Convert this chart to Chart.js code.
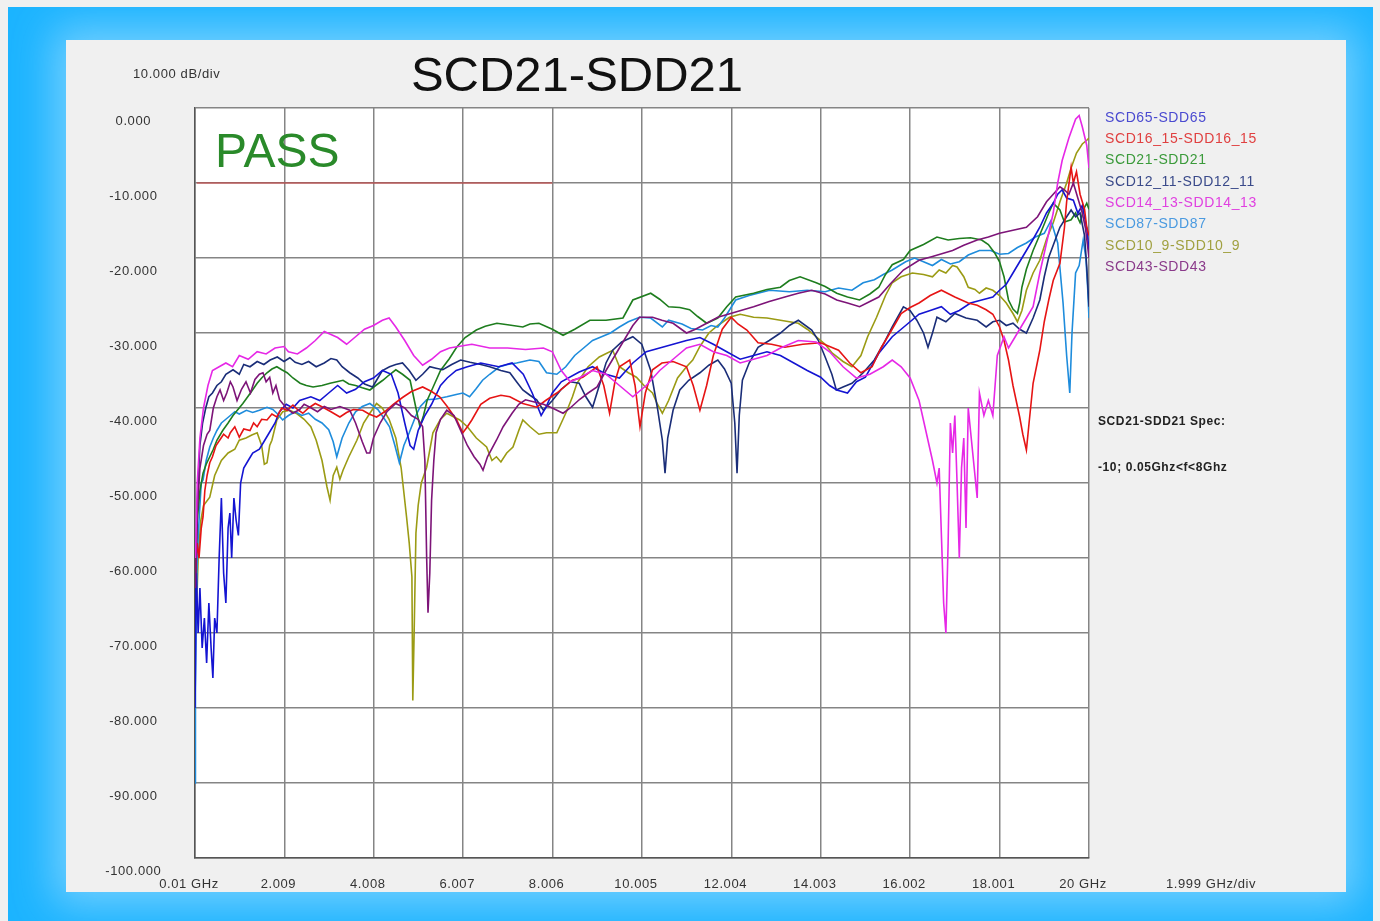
<!DOCTYPE html>
<html>
<head>
<meta charset="utf-8">
<title>SCD21-SDD21</title>
<script src="https://cdn.jsdelivr.net/npm/chart.js@4.4.1/dist/chart.umd.min.js"></script>
<style>
  html, body { margin: 0; padding: 0; background: #f0f0f0; width: 1380px; height: 921px; overflow: hidden; }
  #frame { position: absolute; left: 8px; top: 7px; width: 1365px; height: 914px; background: #1cb4ff; overflow: hidden; }
  #panel { position: absolute; left: 58px; top: 33px; width: 1280px; height: 852px; background: #f0f0f0; box-shadow: 0 0 40px 12px rgba(140, 215, 255, 0.8); }
  #chart { position: absolute; left: 0; top: 0; }
</style>
</head>
<body>
<div id="frame"><div id="panel"></div></div>
<canvas id="chart" width="1380" height="921"></canvas>
<script>
// frequency in GHz, value in dB
const xTickValues = [0.01, 2.009, 4.008, 6.007, 8.006, 10.005, 12.004, 14.003, 16.002, 18.001, 20];
const xTickLabels = ['0.01 GHz', '2.009', '4.008', '6.007', '8.006', '10.005', '12.004', '14.003', '16.002', '18.001', '20 GHz'];

const seriesNames = ['SCD65-SDD65', 'SCD16_15-SDD16_15', 'SCD21-SDD21', 'SCD12_11-SDD12_11',
                     'SCD14_13-SDD14_13', 'SCD87-SDD87', 'SCD10_9-SDD10_9', 'SCD43-SDD43'];
const lineColors = ['#1414d2', '#e61414', '#1e7d1e', '#1a2d78', '#e628e6', '#1e8cdc', '#9b9b14', '#7d1478'];
const legendColors = ['#4a4ad0', '#e04040', '#3a9a3a', '#3a4a8a', '#e040e0', '#4a9ae0', '#a0a040', '#8a3a8a'];

const specLine = [[0.05, -10], [8, -10]];

const scd65 = [[0.01,-80],[0.04,-62],[0.08,-70],[0.12,-64],[0.17,-72],[0.22,-68],[0.27,-74],[0.32,-66],[0.37,-72],[0.41,-76],[0.45,-68],[0.5,-70],[0.55,-60],[0.6,-52],[0.65,-62],[0.7,-66],[0.75,-56],[0.79,-54],[0.83,-60],[0.88,-52],[0.93,-55],[0.98,-57],[1.03,-50],[1.1,-48],[1.2,-47],[1.3,-46],[1.45,-45.5],[1.55,-44.5],[1.65,-43.5],[1.8,-42],[1.9,-40.5],[2.05,-39.5],[2.2,-40],[2.35,-39],[2.6,-38.5],[2.8,-39],[3.0,-38],[3.2,-37],[3.4,-38],[3.6,-37.5],[3.8,-36.5],[4.0,-36],[4.2,-35],[4.4,-35.5],[4.55,-38],[4.7,-42],[4.82,-45],[4.9,-45.5],[5.0,-43],[5.15,-41],[5.3,-39.5],[5.5,-37],[5.65,-36],[5.85,-35],[6.1,-34.5],[6.4,-34],[6.8,-34.5],[7.1,-34],[7.35,-35.5],[7.55,-38],[7.75,-41],[7.85,-40],[8.0,-38],[8.2,-36.5],[8.6,-35.2],[8.9,-34.5],[9.2,-35.5],[9.5,-36],[9.8,-34],[10.1,-32.5],[10.4,-32],[10.7,-31.5],[11.0,-31],[11.3,-30.6],[11.6,-31.5],[11.9,-32.5],[12.2,-33.5],[12.5,-33],[12.8,-32.5],[13.1,-33],[13.4,-34],[13.7,-35],[14.0,-35.9],[14.2,-37],[14.36,-37.6],[14.6,-38],[14.8,-36.5],[15.0,-35.9],[15.3,-32.7],[15.6,-30.5],[15.9,-29],[16.2,-27.5],[16.45,-27],[16.7,-26.5],[16.9,-27.5],[17.1,-27],[17.35,-26],[17.6,-25.6],[17.85,-25.2],[18.0,-24.3],[18.15,-23.5],[18.3,-22],[18.45,-20.5],[18.6,-19],[18.75,-17.5],[18.9,-15.9],[19.05,-14],[19.2,-12.7],[19.3,-11.5],[19.4,-10.9],[19.5,-12],[19.65,-12.3],[19.75,-14],[19.85,-13],[19.95,-16],[20,-19]];

const scd16_15 = [[0.02,-62],[0.06,-58],[0.1,-60],[0.15,-56],[0.19,-54.5],[0.23,-51],[0.28,-49],[0.34,-47.3],[0.4,-46.5],[0.48,-45],[0.56,-44.3],[0.65,-43.5],[0.75,-44],[0.8,-43.3],[0.9,-42.5],[1.0,-43.9],[1.1,-42.8],[1.24,-43],[1.32,-42],[1.4,-42.5],[1.5,-41.5],[1.62,-41.6],[1.73,-40.8],[1.84,-41.2],[1.95,-40],[2.07,-40.3],[2.2,-39.6],[2.3,-40.2],[2.42,-40.7],[2.55,-40],[2.7,-39.4],[2.87,-39.9],[3.05,-40.5],[3.25,-41.2],[3.4,-40.6],[3.55,-40.2],[3.76,-40.3],[3.9,-40.8],[4.07,-41.2],[4.25,-40.5],[4.45,-39.5],[4.65,-38.6],[4.85,-37.8],[5.1,-37.2],[5.3,-37.8],[5.48,-38.5],[5.65,-39.8],[5.86,-41.6],[6.0,-43.3],[6.1,-42.5],[6.2,-41.6],[6.4,-39.5],[6.6,-38.7],[6.85,-38.3],[7.05,-38.5],[7.34,-39.4],[7.65,-39.9],[7.85,-39],[8.1,-38],[8.45,-36.3],[8.68,-35.9],[9.0,-34.5],[9.15,-37],[9.28,-40.7],[9.4,-36.5],[9.5,-34.5],[9.73,-33.6],[9.85,-37],[9.96,-42.5],[10.08,-38],[10.24,-34.9],[10.45,-34],[10.7,-33.8],[11.0,-34.5],[11.15,-37],[11.3,-40.3],[11.45,-37],[11.6,-33],[11.8,-29.5],[12.0,-27.9],[12.15,-28.8],[12.35,-29.6],[12.6,-31.3],[12.9,-31.5],[13.2,-31.9],[13.6,-31.5],[14.0,-31.3],[14.4,-32.3],[14.65,-34],[14.9,-35.3],[15.15,-34.5],[15.35,-32],[15.5,-30.5],[15.8,-27.4],[16.0,-26.6],[16.2,-26],[16.45,-25],[16.7,-24.3],[17.0,-25.2],[17.3,-26],[17.5,-26.3],[17.7,-26.9],[17.85,-27.5],[18.0,-29.2],[18.1,-31],[18.2,-33.6],[18.3,-37],[18.45,-41.2],[18.52,-43.5],[18.6,-45.6],[18.66,-42],[18.75,-36.7],[18.9,-32.3],[19.0,-28.5],[19.1,-25.6],[19.2,-23],[19.35,-20.7],[19.45,-16],[19.5,-12.5],[19.6,-7.9],[19.65,-10],[19.72,-8.5],[19.8,-11.5],[19.9,-13.5],[19.95,-15.9],[20,-17]];

const scd21 = [[0.02,-62],[0.06,-55],[0.12,-51],[0.19,-48.7],[0.26,-47.5],[0.34,-46.5],[0.42,-45.5],[0.5,-44.3],[0.63,-43],[0.75,-42],[0.86,-41],[0.97,-40.2],[1.08,-39.4],[1.25,-38],[1.4,-36.7],[1.5,-36],[1.62,-35.3],[1.73,-34.8],[1.84,-34.5],[1.95,-34.9],[2.07,-35.3],[2.2,-36],[2.36,-36.7],[2.5,-37],[2.65,-37.2],[2.85,-37],[3.03,-36.7],[3.18,-36.5],[3.32,-36.3],[3.45,-36.8],[3.6,-37],[3.75,-37.3],[3.92,-37.6],[4.05,-37],[4.21,-36.3],[4.35,-35.6],[4.5,-34.9],[4.65,-35.5],[4.82,-36.3],[4.95,-40],[5.04,-42.5],[5.12,-41],[5.2,-39],[5.35,-37],[5.5,-35],[5.7,-33.4],[5.86,-31.9],[6.05,-30.6],[6.3,-29.6],[6.5,-29.1],[6.76,-28.7],[7.0,-28.9],[7.34,-29.2],[7.5,-28.8],[7.7,-28.7],[8.0,-29.5],[8.24,-30.3],[8.5,-29.5],[8.84,-28.3],[9.2,-28.3],[9.58,-28],[9.8,-25.6],[10.2,-24.7],[10.4,-25.5],[10.6,-26.5],[10.85,-26.6],[11.07,-26.9],[11.25,-27.8],[11.45,-28.7],[11.7,-28],[11.9,-26.5],[12.1,-25.2],[12.5,-24.7],[12.8,-24.2],[13.1,-23.9],[13.3,-23],[13.54,-22.5],[13.9,-23.3],[14.1,-23.8],[14.36,-24.7],[14.6,-25.2],[14.87,-25.6],[15.1,-24.8],[15.3,-23.9],[15.45,-22.2],[15.6,-20.9],[15.85,-20.2],[16.0,-19],[16.3,-18.2],[16.6,-17.2],[16.85,-17.6],[17.1,-17.4],[17.35,-17.3],[17.6,-17.6],[17.75,-18.2],[17.9,-19.4],[18.0,-20.5],[18.1,-22.5],[18.2,-25.6],[18.3,-26.8],[18.4,-27.4],[18.45,-26],[18.5,-23.9],[18.6,-21.5],[18.75,-19],[18.85,-17.6],[18.97,-15.9],[19.1,-14],[19.2,-12.7],[19.35,-13.6],[19.45,-15.2],[19.6,-14.9],[19.7,-14],[19.8,-15.3],[19.88,-13.5],[19.95,-12.7],[20,-13.5]];

const scd12_11 = [[0.01,-70],[0.04,-58],[0.08,-50],[0.12,-45],[0.18,-42],[0.25,-40],[0.32,-38.5],[0.4,-38],[0.5,-37],[0.6,-36.5],[0.7,-35.5],[0.86,-34.9],[1.0,-35.5],[1.1,-34.2],[1.24,-34.5],[1.4,-33.8],[1.55,-34.2],[1.69,-33.6],[1.85,-33.2],[2.0,-33.8],[2.13,-33.3],[2.25,-33.9],[2.4,-34.2],[2.55,-33.8],[2.72,-34.5],[2.9,-34],[3.05,-33.4],[3.18,-33.6],[3.3,-34.5],[3.47,-35.3],[3.65,-36],[3.8,-36.8],[3.98,-37.2],[4.1,-36],[4.2,-35],[4.36,-34.5],[4.5,-34.2],[4.65,-34],[4.8,-35],[4.95,-36.3],[5.1,-35.5],[5.26,-34.5],[5.4,-34.7],[5.55,-34.9],[5.75,-34.2],[5.95,-33.6],[6.16,-33.9],[6.4,-34.2],[6.6,-34.5],[6.85,-35],[7.05,-35.3],[7.2,-36.5],[7.34,-37.6],[7.5,-38.3],[7.65,-38.9],[7.8,-40.3],[8.0,-39],[8.2,-37.5],[8.4,-36.5],[8.6,-36.7],[8.75,-38.5],[8.9,-39.9],[9.05,-37],[9.2,-34],[9.35,-32.3],[9.55,-31.2],[9.8,-30.5],[10.0,-31.5],[10.2,-35],[10.35,-40],[10.46,-44.3],[10.52,-48.7],[10.58,-44],[10.7,-40.3],[10.85,-37.6],[11.05,-36.3],[11.3,-35.3],[11.5,-34.3],[11.7,-33.6],[11.85,-34.8],[12.0,-36.7],[12.08,-42],[12.13,-48.7],[12.18,-41],[12.25,-36.3],[12.4,-34],[12.6,-31.9],[12.85,-31],[13.1,-30],[13.3,-29],[13.5,-28.3],[13.8,-29.6],[13.95,-31],[14.1,-33.2],[14.25,-35.5],[14.35,-37.6],[14.5,-37.2],[14.7,-36.7],[14.95,-35.3],[15.2,-33.6],[15.4,-31.5],[15.6,-29.2],[15.85,-26.5],[16.0,-27],[16.15,-28.3],[16.3,-30],[16.4,-31.9],[16.5,-30],[16.6,-27.9],[16.8,-28.5],[17.0,-27.4],[17.25,-28],[17.5,-28.3],[17.7,-29.2],[17.85,-28.5],[18.0,-28.3],[18.15,-29],[18.3,-28.7],[18.45,-29.5],[18.6,-30],[18.75,-28],[18.9,-25.6],[19.0,-22.5],[19.1,-19.9],[19.25,-17.5],[19.35,-15.9],[19.5,-14.5],[19.6,-13.6],[19.7,-14.5],[19.8,-14],[19.9,-17],[19.95,-21.2],[20,-26.5]];

const scd14_13 = [[0.02,-60],[0.06,-50],[0.12,-44],[0.2,-40],[0.3,-37],[0.4,-35],[0.55,-34.5],[0.7,-34],[0.85,-34.5],[1.0,-33],[1.2,-33.5],[1.4,-32.5],[1.6,-32.8],[1.8,-32],[2.0,-31.8],[2.1,-32.5],[2.3,-32.8],[2.5,-32],[2.7,-31],[2.9,-29.8],[3.05,-30.2],[3.2,-30.6],[3.4,-31.5],[3.6,-30.5],[3.8,-29.5],[4.0,-29],[4.2,-28.3],[4.35,-28],[4.5,-29.2],[4.7,-31],[4.9,-33],[5.1,-34.3],[5.3,-33.5],[5.5,-32.5],[5.7,-32],[5.9,-31.8],[6.2,-31.5],[6.6,-32],[7.0,-32],[7.4,-32.2],[7.8,-32],[8.0,-32.5],[8.2,-35],[8.4,-36.5],[8.6,-36],[8.9,-35],[9.2,-35.5],[9.5,-37],[9.8,-38.5],[10.1,-37],[10.4,-35],[10.7,-33.5],[11.0,-32],[11.3,-31.5],[11.6,-32.5],[11.9,-33],[12.2,-34],[12.5,-33.5],[12.8,-33],[13.1,-32],[13.5,-31],[13.9,-31.2],[14.2,-32.5],[14.5,-34.5],[14.8,-36],[15.1,-35.5],[15.4,-34.5],[15.6,-33.6],[15.8,-34.5],[16.0,-36],[16.2,-39],[16.35,-43],[16.5,-47],[16.6,-50],[16.65,-48],[16.7,-57],[16.75,-66],[16.8,-70],[16.85,-58],[16.9,-42],[16.95,-46],[17.0,-41],[17.05,-50],[17.1,-60],[17.15,-48],[17.2,-44],[17.25,-56],[17.3,-40],[17.4,-46],[17.5,-52],[17.55,-38],[17.65,-41],[17.75,-39],[17.85,-41],[17.95,-33],[18.1,-30.5],[18.2,-32],[18.35,-30.5],[18.5,-29],[18.6,-28],[18.75,-26.5],[18.9,-22],[19.05,-18],[19.2,-14],[19.3,-10],[19.4,-7],[19.55,-4],[19.7,-1.5],[19.78,-1],[19.85,-2.5],[19.95,-5],[20,-8]];

const scd87 = [[0.01,-90],[0.02,-78],[0.04,-66],[0.06,-60],[0.1,-55],[0.15,-50],[0.19,-49.6],[0.26,-47],[0.34,-45.2],[0.42,-44],[0.5,-43],[0.6,-42],[0.7,-41.5],[0.8,-41],[0.9,-40.5],[1.0,-40.8],[1.16,-40.3],[1.3,-40.6],[1.45,-40.3],[1.62,-39.9],[1.75,-40.2],[1.84,-40.7],[1.97,-41.6],[2.1,-41],[2.25,-40.5],[2.4,-41],[2.55,-40.7],[2.7,-41.5],[2.85,-42],[3.0,-42.9],[3.1,-44.5],[3.18,-46.5],[3.3,-44],[3.45,-42],[3.6,-40.5],[3.75,-39.8],[3.92,-39.4],[4.1,-40.2],[4.25,-41.5],[4.36,-42.5],[4.48,-45],[4.58,-47.3],[4.68,-45],[4.8,-43.3],[4.95,-41],[5.05,-39.8],[5.19,-38.9],[5.4,-38.8],[5.64,-38.5],[5.85,-38.2],[6.0,-38],[6.15,-38.5],[6.3,-37.4],[6.44,-36.3],[6.6,-35.5],[6.82,-34.5],[7.0,-34.2],[7.2,-34],[7.5,-33.6],[7.7,-33.8],[7.87,-35.3],[8.1,-35.5],[8.3,-34.5],[8.5,-33],[8.7,-32],[8.9,-31],[9.1,-30.5],[9.3,-30],[9.5,-29.2],[9.7,-28.5],[9.95,-27.9],[10.2,-28],[10.46,-29.2],[10.6,-28.3],[10.9,-28.8],[11.1,-29.4],[11.36,-29.6],[11.55,-29],[11.7,-29.2],[11.85,-28],[12.1,-25.6],[12.4,-25],[12.86,-24.3],[13.3,-24.5],[13.7,-24.3],[14.1,-24.5],[14.4,-24],[14.7,-24.3],[14.95,-23.3],[15.2,-22.9],[15.4,-22.2],[15.6,-21.6],[15.9,-20.5],[16.1,-20],[16.3,-20.5],[16.5,-21],[16.7,-20.2],[16.9,-20.8],[17.1,-20.5],[17.3,-19.6],[17.55,-19],[17.8,-19],[18.0,-19.5],[18.2,-19.4],[18.4,-18.6],[18.6,-18],[18.8,-17.2],[19.0,-16.7],[19.15,-15],[19.3,-18],[19.42,-26],[19.5,-33],[19.57,-38],[19.62,-30],[19.7,-22],[19.78,-21],[19.87,-17.6],[19.93,-20],[19.97,-24],[20,-28]];

const scd10_9 = [[0.03,-70],[0.08,-60],[0.14,-55],[0.2,-53],[0.34,-51.9],[0.45,-49],[0.6,-47],[0.75,-46],[0.9,-45.5],[1.0,-44.3],[1.15,-44],[1.28,-43.6],[1.4,-43.3],[1.5,-45],[1.56,-47.5],[1.62,-47.3],[1.68,-45],[1.73,-44.3],[1.84,-41.6],[1.97,-40.5],[2.13,-40.3],[2.3,-40.8],[2.45,-41.5],[2.6,-42.5],[2.72,-44.3],[2.85,-47],[2.96,-50.5],[3.03,-52.3],[3.1,-49],[3.18,-47.9],[3.25,-49.5],[3.32,-48.3],[3.45,-46.5],[3.63,-44.3],[3.78,-42],[3.92,-40.7],[4.07,-39.4],[4.2,-40],[4.35,-41.5],[4.5,-44],[4.62,-48],[4.74,-54.5],[4.8,-58],[4.86,-62.5],[4.88,-79],[4.91,-70],[4.95,-56.7],[5.0,-53],[5.07,-50],[5.19,-47.9],[5.33,-43.3],[5.5,-41.5],[5.64,-40.7],[5.8,-41.2],[5.93,-41.6],[6.1,-42.5],[6.3,-44],[6.53,-45.2],[6.65,-47],[6.75,-46.5],[6.85,-47.2],[6.98,-46],[7.12,-45.2],[7.25,-43],[7.34,-41.6],[7.5,-42.5],[7.7,-43.5],[7.87,-43.3],[8.1,-43.3],[8.2,-42],[8.33,-40.3],[8.45,-38.5],[8.55,-36.7],[8.8,-34.5],[9.05,-33.2],[9.35,-32.3],[9.5,-34.5],[9.7,-35.3],[9.88,-35.9],[10.05,-37],[10.24,-38],[10.35,-39.5],[10.46,-40.7],[10.6,-39],[10.8,-36],[11.0,-34.5],[11.14,-33.6],[11.3,-31.8],[11.5,-30],[11.7,-29],[11.96,-27.9],[12.2,-27.5],[12.5,-27.9],[12.8,-28],[13.1,-28.3],[13.5,-28.7],[13.7,-29.5],[13.9,-30.5],[14.1,-31.5],[14.26,-32.7],[14.5,-33.8],[14.7,-34.5],[14.9,-33],[15.05,-30.5],[15.25,-27.9],[15.45,-25],[15.6,-23.3],[15.8,-22.5],[16.05,-22],[16.3,-22.2],[16.5,-22.5],[16.65,-21.6],[16.8,-22],[16.95,-21],[17.05,-21.2],[17.2,-22.5],[17.3,-23.9],[17.45,-24.2],[17.55,-24.7],[17.7,-24],[17.85,-24.3],[18.0,-25],[18.15,-26],[18.3,-27.4],[18.4,-28.5],[18.5,-27],[18.6,-24.3],[18.75,-22],[18.9,-20.3],[19.05,-17.5],[19.2,-15.3],[19.35,-12.5],[19.5,-10],[19.6,-8],[19.72,-6],[19.85,-4.8],[19.95,-4.3],[20,-4]];

const scd43 = [[0.02,-64],[0.06,-54],[0.12,-48],[0.2,-45],[0.28,-43.5],[0.34,-43],[0.42,-40],[0.5,-38.5],[0.57,-37.6],[0.65,-39],[0.72,-38],[0.8,-36.5],[0.86,-37.2],[0.95,-39],[1.05,-37.5],[1.15,-36.5],[1.25,-38],[1.35,-36.2],[1.45,-35.5],[1.53,-35.3],[1.6,-36.5],[1.68,-35.9],[1.75,-38],[1.82,-37],[1.9,-38.9],[1.97,-39.4],[2.05,-40],[2.2,-40.7],[2.35,-40.2],[2.45,-39.5],[2.58,-39.9],[2.75,-40.5],[2.9,-39.8],[3.05,-40.2],[3.25,-39.8],[3.47,-40.3],[3.6,-42],[3.75,-44.5],[3.85,-46],[3.92,-46],[4.0,-44],[4.15,-42],[4.3,-40.5],[4.5,-39.4],[4.7,-40],[4.85,-41],[5.0,-41.5],[5.1,-42.5],[5.15,-47],[5.19,-60],[5.22,-67.3],[5.26,-62],[5.3,-52.3],[5.35,-47],[5.4,-43.3],[5.5,-41.5],[5.64,-40.3],[5.8,-41],[5.95,-43],[6.1,-45],[6.25,-46.5],[6.38,-47.5],[6.45,-48.3],[6.55,-46.5],[6.75,-44.3],[6.9,-42.5],[7.1,-40.7],[7.25,-39.5],[7.4,-38.9],[7.6,-39.2],[7.8,-39.5],[8.0,-40],[8.24,-40.7],[8.4,-40],[8.6,-38.9],[8.8,-38],[9.0,-37.2],[9.2,-35],[9.4,-33],[9.6,-31],[9.8,-29],[9.95,-27.9],[10.24,-27.9],[10.45,-28.3],[10.7,-28.7],[11.0,-30],[11.2,-29.5],[11.45,-28.7],[11.7,-27.9],[12.1,-27.2],[12.5,-26.5],[12.85,-25.8],[13.2,-25.2],[13.5,-24.7],[13.8,-24.3],[14.1,-24.8],[14.36,-25.6],[14.6,-26],[14.87,-26.5],[15.1,-25.8],[15.3,-25.2],[15.55,-23.5],[15.85,-21.6],[16.2,-20.3],[16.5,-19.8],[16.95,-19],[17.2,-18.3],[17.5,-17.6],[17.75,-17.2],[18.0,-16.7],[18.3,-16.3],[18.6,-15.9],[18.85,-14.5],[19.05,-12.5],[19.2,-11.5],[19.35,-10.5],[19.45,-10.9],[19.55,-11.5],[19.65,-10],[19.75,-12],[19.85,-14],[19.92,-16],[20,-20]];

const seriesData = [scd65, scd16_15, scd21, scd12_11, scd14_13, scd87, scd10_9, scd43];
// draw order, smaller = on top
const drawOrder = [4, 3, 6, 5, 1, 7, 8, 2];

const FONT = '"Liberation Sans", Arial, sans-serif';

function toXY(points) {
    return points.map(p => ({ x: p[0], y: p[1] }));
}

const datasets = seriesData.map((pts, i) => ({
    label: seriesNames[i],
    data: toXY(pts),
    borderColor: lineColors[i],
    borderWidth: 1.6,
    pointRadius: 0,
    tension: 0,
    fill: false,
    order: drawOrder[i],
}));

datasets.push({
    label: 'spec',
    data: toXY(specLine),
    borderColor: '#cc3b3b',
    borderWidth: 1.2,
    pointRadius: 0,
    fill: false,
    order: 0,
});

// white plot area + all the free text around the plot
const textPlugin = {
    id: 'texts',
    beforeDraw(chart) {
        const { ctx, chartArea: a } = chart;
        ctx.fillStyle = '#ffffff';
        ctx.fillRect(a.left, a.top, a.right - a.left, a.bottom - a.top);
        // wider spacing for the axis labels, like the analyser's font
        ctx.letterSpacing = '0.6px';
    },
    afterDraw(chart) {
        const ctx = chart.ctx;
        ctx.save();
        ctx.letterSpacing = '0px';

        ctx.fillStyle = '#111';
        ctx.font = '49px ' + FONT;
        ctx.textAlign = 'center';
        ctx.textBaseline = 'alphabetic';
        ctx.fillText('SCD21-SDD21', 577, 91);

        ctx.fillStyle = '#2a8a2a';
        ctx.font = '48px ' + FONT;
        ctx.textAlign = 'left';
        ctx.fillText('PASS', 215, 167);

        ctx.fillStyle = '#333';
        ctx.font = '13px ' + FONT;
        ctx.letterSpacing = '0.6px';
        ctx.textBaseline = 'middle';
        ctx.fillText('10.000 dB/div', 133, 74);
        ctx.fillText('1.999 GHz/div', 1166, 884);

        // legend
        ctx.font = '14px ' + FONT;
        ctx.letterSpacing = '0.6px';
        seriesNames.forEach((name, i) => {
            ctx.fillStyle = legendColors[i];
            ctx.fillText(name, 1105, 118 + i * 21.3);
        });

        ctx.fillStyle = '#222';
        ctx.font = 'bold 12px ' + FONT;
        ctx.letterSpacing = '0.6px';
        ctx.fillText('SCD21-SDD21 Spec:', 1098, 422);
        ctx.fillText('-10; 0.05Ghz<f<8Ghz', 1098, 468);
        ctx.restore();
    }
};

new Chart(document.getElementById('chart'), {
    type: 'line',
    data: { datasets: datasets },
    options: {
        responsive: false,
        animation: false,
        layout: { padding: { left: 66, top: 108, right: 291, bottom: 33 } },
        plugins: {
            legend: { display: false },
            tooltip: { enabled: false },
        },
        scales: {
            x: {
                type: 'linear',
                min: 0.01,
                max: 20,
                afterBuildTicks: scale => {
                    scale.ticks = xTickValues.map(v => ({ value: v }));
                },
                afterFit: scale => { scale.height = 30; },
                ticks: {
                    callback: (value, index) => xTickLabels[index],
                    font: { family: FONT, size: 13 },
                    color: '#333',
                    padding: 19,
                    labelOffset: -6,
                    maxRotation: 0,
                    autoSkip: false,
                },
                grid: { color: '#858585', lineWidth: 1.5, drawTicks: false },
                border: { color: '#555', width: 1.5 },
            },
            y: {
                min: -100,
                max: 0,
                afterFit: scale => { scale.width = 129; },
                ticks: {
                    stepSize: 10,
                    callback: value => value.toFixed(3),
                    font: { family: FONT, size: 13 },
                    color: '#333',
                    crossAlign: 'center',
                    padding: 36,
                    labelOffset: 13,
                },
                grid: { color: '#858585', lineWidth: 1.5, drawTicks: false },
                border: { color: '#555', width: 1.5 },
            },
        },
    },
    plugins: [textPlugin],
});
</script>
</body>
</html>
